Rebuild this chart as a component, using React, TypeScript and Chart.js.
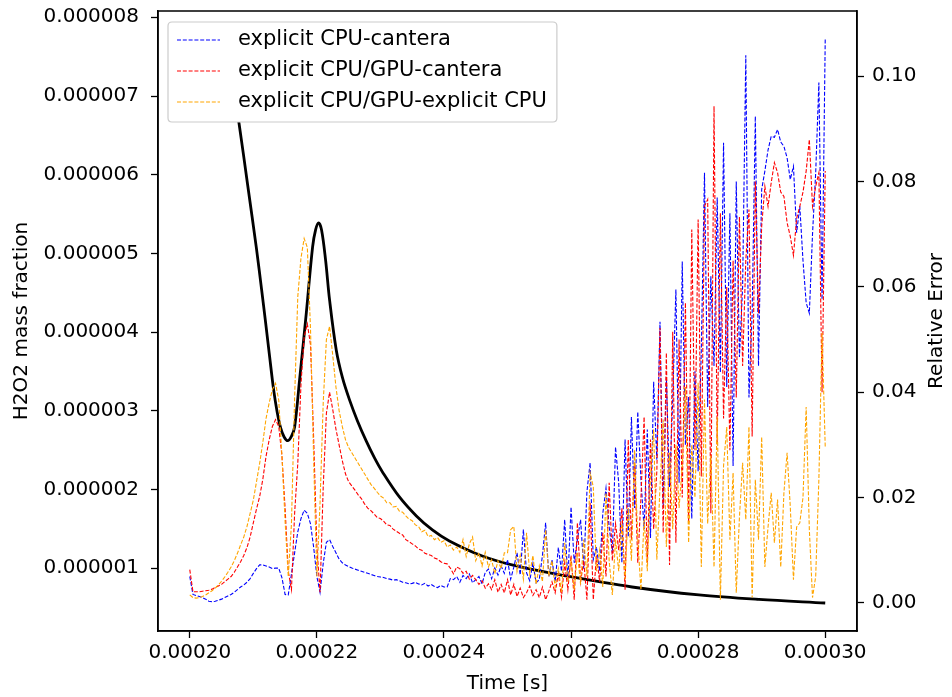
import React, { useEffect, useRef } from "react";
import { Chart, registerables } from "chart.js";

Chart.register(...registerables);

// Sampling grid of the relative-error series (microseconds)
const SAMPLE_START_US = 200;
const SAMPLE_STEP_US = 0.5;

// Relative error values, in units of 1e-3
const blueErr = [
  5.0, 1.6, 1.4, 1.2, 1.0, 0.7, 0.3, 0.2, 0.3, 0.5,
  0.7, 1.0, 1.3, 1.6, 2.0, 2.5, 3.0, 3.4, 3.9, 4.6,
  5.6, 6.5, 7.2, 7.2, 7.0, 6.8, 6.5, 6.6, 6.6, 4.8,
  1.6, 1.5, 5.5, 9.5, 13.5, 16.0, 17.6, 17.0, 15.0, 10.5,
  5.0, 2.0, 7.5, 11.5, 12.0, 10.7, 9.5, 8.3, 7.6, 7.2,
  6.9, 6.6, 6.4, 6.2, 6.0, 5.8, 5.6, 5.4, 5.2, 5.0,
  4.9, 4.8, 4.6, 4.5, 4.3, 4.4, 4.2, 3.9, 3.8, 3.6,
  3.7, 3.9, 3.6, 3.4, 3.7, 3.2, 3.5, 3.1, 2.9, 3.3,
  3.0, 3.0, 4.6, 4.4, 5.0, 3.9, 5.2, 4.6, 5.5, 3.8,
  4.4, 5.0, 3.6, 5.8, 6.4, 4.6, 6.6, 5.3, 7.0, 5.6,
  8.2, 4.5, 6.8, 9.5, 5.3, 13.9, 5.7, 4.2, 7.5, 3.8,
  4.4, 9.0, 15.2, 5.0, 8.2, 4.0, 10.5, 6.0, 15.8, 4.3,
  18.2, 7.6, 12.0, 15.8, 6.5, 21.1, 26.6, 8.2, 10.6, 6.0,
  17.0, 21.8, 14.4, 9.5, 29.6, 22.8, 7.6, 31.0, 12.5, 35.3,
  18.0, 36.3, 23.4, 14.0, 32.9, 12.3, 42.0, 27.2, 53.4, 18.2,
  42.9, 22.0, 38.6, 59.5, 22.8, 64.8, 30.0, 39.1, 16.0, 44.0,
  25.0, 48.0, 81.7, 37.2, 62.0, 45.0, 77.0, 43.7, 87.4, 41.0,
  74.0, 26.0, 80.0, 46.7, 60.0, 104.0, 39.0, 55.0, 92.4, 45.0,
  78.5, 82.0, 86.0, 88.6, 88.4, 89.9, 87.5, 86.7, 84.5, 80.4,
  82.9, 70.3, 75.3, 65.0, 57.0, 55.0, 70.0, 81.7, 98.8, 57.6,
  107.0,
];

const redErr = [
  6.3, 2.1, 2.1, 2.1, 2.2, 2.3, 2.4, 2.6, 2.9, 3.2,
  3.5, 4.0, 4.5, 5.0, 5.8, 6.8, 7.8, 9.0, 10.5, 12.5,
  15.2, 17.8, 20.2, 23.5, 27.8, 31.0, 33.5, 34.8, 33.5, 28.0,
  18.0, 6.0, 2.5, 17.0, 26.5, 41.5, 50.5, 53.0, 49.0, 31.0,
  10.7, 2.0, 22.0, 36.0, 40.0, 36.7, 33.0, 30.0, 27.0, 24.5,
  23.0, 22.2, 21.4, 20.5, 19.8, 18.8, 18.0, 17.5, 16.9, 16.2,
  16.0, 15.5, 14.8, 14.7, 14.0, 13.6, 13.2, 12.9, 12.0, 11.6,
  11.2, 10.8, 10.2, 10.0, 9.4, 9.2, 9.0, 8.5, 8.3, 7.8,
  7.5, 7.4, 6.6, 5.5, 6.8, 6.5, 5.6, 6.0, 4.5, 5.2,
  4.4, 3.5, 4.2, 2.8, 3.6, 2.5, 4.4, 2.0, 3.5, 1.9,
  4.4, 1.5, 3.5, 1.2, 2.8, 1.0, 1.9, 3.2, 1.4, 2.5,
  1.0, 3.0, 0.6, 2.2, 4.0, 1.9, 5.5, 1.1, 7.6, 2.5,
  9.0, 0.6, 15.2, 4.0, 8.0, 0.6, 19.0, 0.6, 9.0, 4.0,
  13.3, 5.0, 22.8, 8.0, 15.0, 10.0, 18.0, 2.5, 31.0, 12.0,
  26.6, 7.6, 20.0, 35.3, 7.6, 31.0, 14.0, 25.0, 52.2, 13.3,
  47.5, 7.2, 51.5, 11.4, 50.0, 20.0, 57.0, 15.2, 70.9, 29.0,
  72.8, 24.0, 75.3, 76.6, 17.0, 94.3, 30.0, 74.0, 35.0, 60.0,
  29.0, 65.0, 39.0, 73.3, 45.0, 65.0, 74.7, 31.6, 80.0, 55.0,
  71.5, 79.1, 75.3, 79.8, 83.6, 81.7, 78.0, 77.2, 72.2, 69.6,
  66.0, 73.0, 75.3, 78.0, 82.0, 88.0, 75.3, 79.1, 81.7, 40.0,
  82.0,
];

const orangeErr = [
  1.5, 1.0, 0.9, 1.0, 1.2, 1.5, 1.9, 2.3, 2.8, 3.4,
  4.1, 4.9, 5.8, 6.8, 8.0, 9.4, 11.0, 12.5, 14.5, 17.0,
  19.5, 23.0, 26.5, 30.5, 35.0, 38.0, 40.5, 41.7, 38.5, 28.0,
  15.5, 5.0, 15.0, 39.0, 58.2, 65.5, 69.2, 67.5, 52.0, 27.0,
  5.0, 19.0, 38.0, 50.0, 52.5, 47.0, 41.0, 36.5, 33.5, 31.0,
  29.5, 28.5, 27.5, 26.5, 25.5, 24.5, 23.5, 22.5, 21.8, 21.0,
  20.3, 19.9, 19.0, 19.0, 18.2, 18.3, 17.4, 17.2, 16.5, 15.9,
  15.6, 14.8, 14.5, 13.5, 13.8, 12.6, 12.8, 12.0, 12.4, 11.5,
  11.8, 10.6, 11.0, 10.0, 10.6, 9.6, 12.0, 8.8, 11.2, 12.5,
  8.0, 9.5, 7.0, 9.6, 6.8, 8.2, 5.5, 8.0, 6.5, 9.5,
  9.5, 13.9, 14.5, 6.0, 9.0, 4.5, 13.3, 5.5, 9.0, 3.5,
  7.0, 4.0, 13.9, 5.0, 8.0, 3.0, 6.5, 2.0, 11.4, 4.0,
  8.0, 2.5, 9.5, 3.5, 12.0, 5.0, 24.7, 22.0, 6.0, 10.0,
  3.0, 20.9, 8.0, 1.5, 12.0, 6.0, 15.0, 4.5, 18.0, 8.0,
  29.0, 12.0, 2.5, 16.0, 6.0, 24.0, 32.9, 8.2, 22.0, 34.8,
  10.6, 28.5, 14.0, 30.0, 18.0, 26.0, 41.0, 11.4, 30.0, 20.0,
  41.8, 6.8, 38.6, 15.0, 28.0, 6.8, 35.3, 0.6, 26.0, 33.4,
  12.0, 24.7, 1.9, 16.3, 26.6, 15.8, 33.4, 1.0, 23.4, 12.0,
  31.5, 6.8, 14.4, 20.9, 11.4, 19.6, 6.8, 20.9, 28.5, 18.3,
  4.4, 14.4, 15.2, 20.0, 37.2, 13.9, 1.0, 5.0, 23.4, 51.3,
  29.6,
];

// H2O2 mass fraction (units of 1e-6) against time (microseconds)
const massTimeUs = [
  200, 203.93, 206.0, 206.91, 207.75, 209.11, 210.48, 211.31, 211.94, 212.57,
  213.2, 213.75, 214.3, 214.85, 215.44, 216.03, 216.5, 217.28, 218.34, 219.33,
  219.8, 220.27, 220.74, 221.37, 222.0, 223.05, 224.04, 225.14, 226.39, 227.76,
  229.07, 230.32, 232.99, 235.66, 238.18, 240.85, 246.03, 251.37, 259.22, 269.6,
  280.12, 289.55, 300,
];
const massFrac = [
  7.726, 7.637, 7.433, 7.078, 6.654, 5.87, 5.07, 4.536, 4.117, 3.685,
  3.266, 2.986, 2.783, 2.668, 2.621, 2.681, 2.795, 3.393, 4.244, 5.083,
  5.299, 5.388, 5.299, 4.918, 4.409, 3.774, 3.418, 3.139, 2.872, 2.618,
  2.402, 2.224, 1.906, 1.665, 1.487, 1.347, 1.156, 1.029, 0.902, 0.762,
  0.661, 0.604, 0.559,
];

const seriesLabels = [
  "explicit CPU-cantera",
  "explicit CPU/GPU-cantera",
  "explicit CPU/GPU-explicit CPU",
];
const seriesColors = ["#0000ff", "#ff0000", "#ffa500"];

const xTicks = [0.0002, 0.00022, 0.00024, 0.00026, 0.00028, 0.0003];
const leftTicks = [
  0.000001, 0.000002, 0.000003, 0.000004, 0.000005, 0.000006, 0.000007, 0.000008,
];
const rightTicks = [0, 0.02, 0.04, 0.06, 0.08, 0.1];

const xTitle = "Time [s]";
const leftTitle = "H2O2 mass fraction";
const rightTitle = "Relative Error";

const FONT = "DejaVu Sans";

const overlayPlugin = {
  id: "overlay",
  afterDraw(chart: any) {
    const { ctx, chartArea: a } = chart;
    ctx.save();
    // frame
    ctx.strokeStyle = "#000";
    ctx.lineWidth = 1.5;
    ctx.setLineDash([]);
    ctx.strokeRect(a.left, a.top, a.right - a.left, a.bottom - a.top);

    // right axis title (reads bottom to top)
    ctx.save();
    ctx.font = `20px "${FONT}"`;
    ctx.fillStyle = "#000";
    ctx.textAlign = "center";
    ctx.textBaseline = "middle";
    ctx.translate(chart.width - 15, (a.top + a.bottom) / 2);
    ctx.rotate(-Math.PI / 2);
    ctx.fillText(rightTitle, 0, 0);
    ctx.restore();

    // legend
    const items = chart.data.datasets.filter((d: any) => seriesLabels.includes(d.label));
    ctx.font = `21px "${FONT}"`;
    let maxW = 0;
    items.forEach((d: any) => {
      maxW = Math.max(maxW, ctx.measureText(d.label).width);
    });
    const bx = a.left + 10;
    const by = a.top + 11;
    const bw = 70 + maxW + 10;
    const rowH = 31;
    const bh = items.length * rowH + 7;
    const r = 4;
    ctx.beginPath();
    ctx.moveTo(bx + r, by);
    ctx.lineTo(bx + bw - r, by);
    ctx.quadraticCurveTo(bx + bw, by, bx + bw, by + r);
    ctx.lineTo(bx + bw, by + bh - r);
    ctx.quadraticCurveTo(bx + bw, by + bh, bx + bw - r, by + bh);
    ctx.lineTo(bx + r, by + bh);
    ctx.quadraticCurveTo(bx, by + bh, bx, by + bh - r);
    ctx.lineTo(bx, by + r);
    ctx.quadraticCurveTo(bx, by, bx + r, by);
    ctx.closePath();
    ctx.fillStyle = "#ffffff";
    ctx.fill();
    ctx.strokeStyle = "#cccccc";
    ctx.lineWidth = 1.2;
    ctx.stroke();

    items.forEach((d: any, k: number) => {
      const y = by + 18 + k * rowH;
      ctx.beginPath();
      ctx.strokeStyle = d.borderColor;
      ctx.lineWidth = d.borderWidth;
      ctx.setLineDash(d.borderDash || []);
      ctx.moveTo(bx + 9, y);
      ctx.lineTo(bx + 52, y);
      ctx.stroke();
      ctx.setLineDash([]);
      ctx.fillStyle = "#000";
      ctx.textAlign = "left";
      ctx.textBaseline = "middle";
      ctx.fillText(d.label, bx + 70, y);
    });
    ctx.restore();
  },
};

const errSeries = [blueErr, redErr, orangeErr];

export default function App() {
  const canvasRef = useRef<HTMLCanvasElement | null>(null);

  useEffect(() => {
    document.body.style.margin = "0";
    const canvas = canvasRef.current;
    if (!canvas) return;

    const errDatasets = errSeries.map((arr, k) => ({
      label: seriesLabels[k],
      data: arr.map((v, i) => ({
        x: (SAMPLE_START_US + i * SAMPLE_STEP_US) * 1e-6,
        y: v * 1e-3,
      })),
      yAxisID: "yR",
      borderColor: seriesColors[k],
      borderWidth: 1.1,
      borderDash: [4, 1.8],
      pointRadius: 0,
      tension: 0,
      fill: false,
      order: 3 - k,
    }));

    const massDataset = {
      label: "H2O2",
      data: massTimeUs.map((t, i) => ({ x: t * 1e-6, y: massFrac[i] * 1e-6 })),
      yAxisID: "yL",
      borderColor: "#000000",
      borderWidth: 2.8,
      pointRadius: 0,
      tension: 0.35,
      fill: false,
      order: 10,
    };

    const tickGrid = {
      display: true,
      drawOnChartArea: false,
      drawTicks: true,
      tickLength: 7,
      tickWidth: 1.3,
      tickColor: "#000",
    };
    const border = { display: true, color: "#000", width: 1.5 };
    const tickFont = { family: FONT, size: 20 };

    const chart = new Chart(canvas, {
      type: "line",
      data: { datasets: [...errDatasets, massDataset] as any },
      options: {
        responsive: false,
        animation: false,
        devicePixelRatio: 1,
        layout: { padding: { top: 11, left: 0, right: 0, bottom: 0 } },
        plugins: { legend: { display: false }, tooltip: { enabled: false } },
        scales: {
          x: {
            type: "linear",
            min: 0.000195,
            max: 0.000305,
            afterBuildTicks: (s: any) => {
              s.ticks = xTicks.map((v) => ({ value: v }));
            },
            afterFit: (s: any) => {
              s.height = 66;
              s.paddingLeft = 0;
              s.paddingRight = 0;
            },
            ticks: {
              autoSkip: false,
              maxRotation: 0,
              padding: 3,
              color: "#000",
              font: tickFont,
              callback: (v: any) => Number(v).toFixed(5),
            },
            grid: tickGrid,
            border,
            title: {
              display: true,
              text: xTitle,
              color: "#000",
              font: { family: FONT, size: 20 },
              padding: { top: 0, bottom: 1 },
            },
          },
          yL: {
            type: "linear",
            position: "left",
            min: 2.03e-7,
            max: 8.08e-6,
            afterBuildTicks: (s: any) => {
              s.ticks = leftTicks.map((v) => ({ value: v }));
            },
            afterFit: (s: any) => {
              s.width = 158;
              s.paddingTop = 0;
              s.paddingBottom = 0;
            },
            ticks: {
              autoSkip: false,
              padding: 12,
              color: "#000",
              font: tickFont,
              callback: (v: any) => Number(v).toFixed(6),
            },
            grid: tickGrid,
            border,
            title: {
              display: true,
              text: leftTitle,
              color: "#000",
              font: { family: FONT, size: 20 },
              padding: { top: 10, bottom: 0 },
            },
          },
          yR: {
            type: "linear",
            position: "right",
            min: -0.00535,
            max: 0.1124,
            afterBuildTicks: (s: any) => {
              s.ticks = rightTicks.map((v) => ({ value: v }));
            },
            afterFit: (s: any) => {
              s.width = 95;
              s.paddingTop = 0;
              s.paddingBottom = 0;
            },
            ticks: {
              autoSkip: false,
              padding: 8,
              color: "#000",
              font: tickFont,
              callback: (v: any) => Number(v).toFixed(2),
            },
            grid: tickGrid,
            border,
          },
        },
      } as any,
      plugins: [overlayPlugin],
    });

    return () => chart.destroy();
  }, []);

  return (
    <div style={{ position: "absolute", left: 0, top: 0, width: 952, height: 697 }}>
      <canvas ref={canvasRef} width={952} height={697} />
    </div>
  );
}
